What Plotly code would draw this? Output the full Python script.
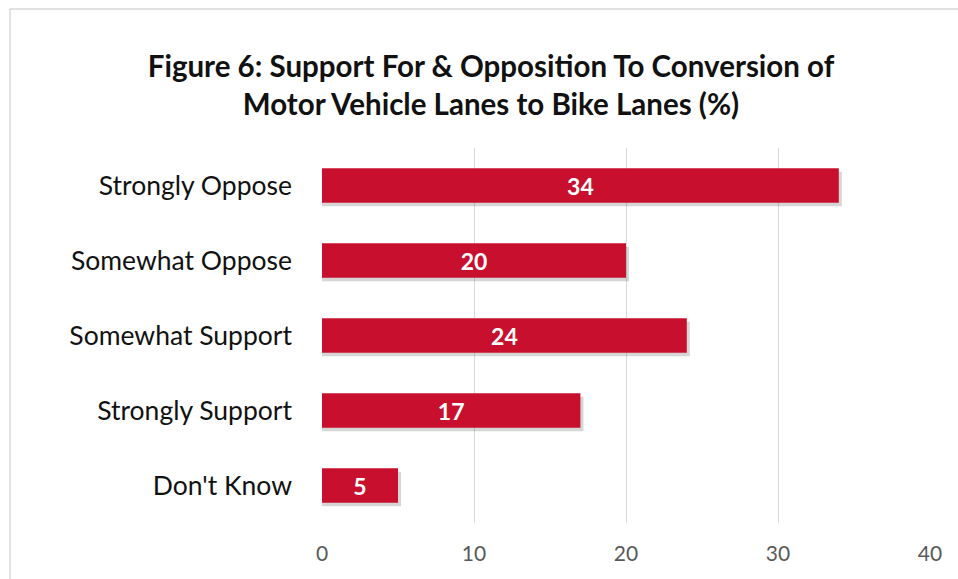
import plotly.graph_objects as go

categories = ["Strongly Oppose", "Somewhat Oppose", "Somewhat Support", "Strongly Support", "Don't Know"]
values = [34, 20, 24, 17, 5]
x_ticks = [0, 10, 20, 30, 40]

BAR = "#C8102E"
FONT = "Lato"
n = len(categories)
ypos = list(range(n))

W, H = 958, 579
L, R, T, B = 322, 28, 148, 56
PW, PH = W - L - R, H - T - B

fig = go.Figure()
# soft shadow
fig.add_trace(go.Bar(
    x=[v + 0.2 for v in values], y=[p + 0.045 for p in ypos], orientation="h",
    width=0.46, marker=dict(color="rgba(0,0,0,0.16)", line=dict(width=0)),
    hoverinfo="skip", showlegend=False,
))
fig.add_trace(go.Bar(
    x=values, y=ypos, orientation="h", width=0.46,
    marker=dict(color=BAR, line=dict(width=0)),
    text=[str(v) for v in values], textposition="inside", insidetextanchor="middle",
    textfont=dict(family=FONT, size=23, color="white", weight="bold"),
    showlegend=False,
))

bx = (10 - L) / PW          # border left in paper coords
by = 1 + (T - 9) / PH       # border top in paper coords
fig.update_layout(
    width=W, height=H,
    margin=dict(l=L, r=R, t=T, b=B),
    paper_bgcolor="white", plot_bgcolor="white",
    barmode="overlay", bargap=0.4,
    title=dict(
        text="Figure 6: Support For & Opposition To Conversion of<br>Motor Vehicle Lanes to Bike Lanes (%)",
        x=491 / W, xanchor="center", y=1 - 77 / H, yanchor="middle",
        font=dict(family=FONT, size=29.5, color="#111111", weight="bold"),
    ),
    xaxis=dict(
        range=[0, 40], tickvals=x_ticks, ticktext=[str(t) for t in x_ticks],
        showgrid=True, gridcolor="#D9D9D9", gridwidth=1.3,
        zeroline=False, showline=False, ticks="",
        tickfont=dict(family=FONT, size=21, color="#595959"),
        ticklabelstandoff=16,
    ),
    yaxis=dict(
        range=[n - 0.5, -0.5], tickvals=ypos, ticktext=categories,
        showgrid=False, zeroline=False, showline=False, ticks="",
        tickfont=dict(family=FONT, size=26.5, color="#111111"),
        ticklabelstandoff=29,
    ),
    shapes=[
        dict(type="line", xref="paper", yref="paper", x0=bx, x1=(W - L) / PW + 0.01,
             y0=by, y1=by, line=dict(color="#D9D9D9", width=1.5), layer="below"),
        dict(type="line", xref="paper", yref="paper", x0=bx, x1=bx,
             y0=by, y1=-B / PH - 0.01, line=dict(color="#D9D9D9", width=1.5), layer="below"),
    ],
)

fig.write_html(
    "out.html",
    config={"displayModeBar": False},
    post_script="document.body.style.margin='0';document.documentElement.style.overflow='hidden';",
)
